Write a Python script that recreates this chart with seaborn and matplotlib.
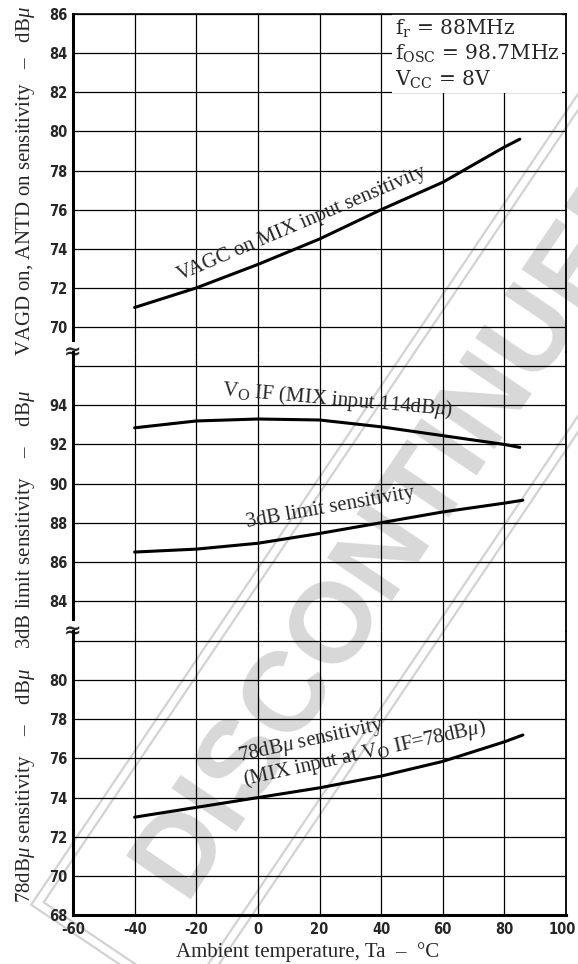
import numpy as np
import pandas as pd
import seaborn as sns
import matplotlib.pyplot as plt
from matplotlib.font_manager import FontProperties, findfont
from matplotlib.patches import Rectangle
from matplotlib.transforms import ScaledTranslation

# ambient temperature axis
x_ticks = [-60, -40, -20, 0, 20, 40, 60, 80, 100]

# VAGC on MIX input sensitivity (top panel)
agc_ta = [-40, -20, 0, 20, 40, 60, 80, 85]
agc_db = [71.0, 72.0, 73.2, 74.5, 76.0, 77.4, 79.2, 79.6]

# VO IF, MIX input 114dBu (middle panel)
voif_ta = [-40, -20, 0, 20, 40, 60, 80, 85]
voif_db = [92.85, 93.2, 93.3, 93.25, 92.9, 92.45, 92.0, 91.85]

# 3dB limit sensitivity (middle panel)
lim_ta = [-40, -20, 0, 20, 40, 60, 80, 86]
lim_db = [86.5, 86.65, 86.95, 87.45, 88.0, 88.55, 89.0, 89.15]

# 78dBu sensitivity (bottom panel)
s78_ta = [-40, -20, 0, 20, 40, 60, 80, 86]
s78_db = [73.0, 73.5, 74.0, 74.5, 75.1, 75.85, 76.85, 77.2]

top_ticks = [70, 72, 74, 76, 78, 80, 82, 84, 86]
top_labels = ["70", "72", "74", "76", "78", "80", "82", "84", "86"]
mid_ticks = [84, 86, 88, 90, 92, 94, 96]
mid_labels = ["84", "86", "88", "90", "92", "94", ""]
bot_ticks = [68, 70, 72, 74, 76, 78, 80, 82]
bot_labels = ["68", "70", "72", "74", "76", "78", "80", ""]

# narrow bold digits for the ticks if the condensed face is there
tick_stretch = "condensed"
if "Condensed" not in findfont(FontProperties(family="DejaVu Sans", weight="bold", stretch="condensed")):
    tick_stretch = "normal"
tick_size = 10.5

sns.set_style("white")
plt.rcParams["font.family"] = ["Liberation Serif", "DejaVu Serif"]
plt.rcParams["mathtext.fontset"] = "custom"
plt.rcParams["mathtext.rm"] = "DejaVu Serif"
plt.rcParams["mathtext.it"] = "Liberation Serif:italic"
plt.rcParams["mathtext.bf"] = "DejaVu Serif:bold"
plt.rcParams["axes.unicode_minus"] = False

fig, axes = plt.subplots(3, 1, figsize=(5.78, 9.64), dpi=100, sharex=True,
                         gridspec_kw={"height_ratios": [17.3, 14.25, 14.5], "hspace": 0})
fig.subplots_adjust(left=73 / 578, right=566 / 578, top=1 - 14 / 964, bottom=1 - 915 / 964)
ax_top, ax_mid, ax_bot = axes

# watermark in the background
wm = fig.add_axes([0, 0, 1, 1], zorder=-1)
wm.set_xlim(0, 578)
wm.set_ylim(0, 964)
wm.axis("off")
ang = 56
c = np.array([402, 440])
u = np.array([np.cos(np.deg2rad(ang)), np.sin(np.deg2rad(ang))])
v = np.array([-np.sin(np.deg2rad(ang)), np.cos(np.deg2rad(ang))])
wm.text(c[0], c[1], "DISCONTINUED", rotation=ang, rotation_mode="anchor",
        ha="center", va="center", fontsize=82, fontweight="bold",
        family="Liberation Sans", color="#d8d8d8", clip_on=True)
for L, W in [(1028, 171), (1046, 189)]:
    xy = c - L / 2 * u - W / 2 * v
    wm.add_patch(Rectangle(xy, L, W, angle=ang, fill=False, ec="#d2d2d2", lw=1.6))

curves = [
    (ax_top, agc_ta, agc_db),
    (ax_mid, voif_ta, voif_db),
    (ax_mid, lim_ta, lim_db),
    (ax_bot, s78_ta, s78_db),
]
for ax, ta, db in curves:
    df = pd.DataFrame({"Ta": ta, "dB": db})
    sns.lineplot(data=df, x="Ta", y="dB", ax=ax, color="black", lw=2.2, zorder=3)

gap = "    \u2013    "
panels = [
    (ax_top, (68.7, 86), top_ticks, top_labels,
     "VAGD on, ANTD on sensitivity   \u2013   dB$\\mathit{\\mu}$", 0.505),
    (ax_mid, (82.45, 96.7), mid_ticks, mid_labels,
     "3dB limit sensitivity" + gap + "dB$\\mathit{\\mu}$", 0.40),
    (ax_bot, (68, 82.5), bot_ticks, bot_labels,
     "78dB$\\mathit{\\mu}$ sensitivity" + gap + "dB$\\mathit{\\mu}$", 0.456),
]
for ax, ylim, ticks, labels, ylab, ly in panels:
    ax.set_facecolor("none")
    ax.set_xlim(-60, 100)
    ax.set_ylim(*ylim)
    ax.set_xticks(x_ticks)
    ax.set_yticks(ticks, labels)
    ax.set_axisbelow(True)
    ax.grid(True, color="black", lw=0.9)
    ax.set_xlabel("")
    ax.set_ylabel(ylab, fontsize=15)
    ax.yaxis.set_label_coords(-0.073, ly)
    ax.tick_params(axis="y", length=3, width=1, pad=1, labelsize=tick_size, color="black")
    plt.setp(ax.get_yticklabels(), family="DejaVu Sans", weight="bold", stretch=tick_stretch)
    ax.spines["left"].set_linewidth(2.2)
    ax.spines["right"].set_linewidth(1.3)
    for s in ["left", "right", "top", "bottom"]:
        ax.spines[s].set_color("black")

ax_top.spines["bottom"].set_visible(False)
ax_top.spines["top"].set_linewidth(1.2)
ax_mid.spines["top"].set_visible(False)
ax_mid.spines["bottom"].set_visible(False)
ax_bot.spines["top"].set_visible(False)
ax_bot.spines["bottom"].set_linewidth(2.2)
for ax in (ax_top, ax_mid):
    ax.tick_params(axis="x", bottom=False, labelbottom=False)
ax_bot.tick_params(axis="x", length=0, pad=5, labelsize=tick_size)
plt.setp(ax_bot.get_xticklabels(), family="DejaVu Sans", weight="bold", stretch=tick_stretch)
last = ax_bot.get_xticklabels()[-1]
last.set_horizontalalignment("right")
last.set_transform(last.get_transform() + ScaledTranslation(0.1, 0, fig.dpi_scale_trans))
ax_bot.set_xlabel("Ambient temperature, Ta  \u2013  \u00b0C", fontsize=15)
ax_bot.xaxis.set_label_coords(0.475, -0.095)

# axis break marks on the left edge
for ax in (ax_top, ax_mid):
    ax.text(0, 0, "\u2248", transform=ax.transAxes, ha="center", va="center",
            fontsize=15, fontweight="bold", family="DejaVu Sans", zorder=10, clip_on=False,
            bbox=dict(facecolor="white", edgecolor="none", pad=0.5))

# curve captions
ax_top.text(14.3, 75.3, "VAGC on MIX input sensitivity", rotation=23, rotation_mode="anchor",
            ha="center", va="center", fontsize=15)
ax_mid.text(26, 94.25, "V$_\\mathrm{O}$ IF (MIX input 114dB$\\mathit{\\mu}$)", rotation=-5,
            rotation_mode="anchor", ha="center", va="center", fontsize=15)
ax_mid.text(23.4, 88.75, "3dB limit sensitivity", rotation=10, rotation_mode="anchor",
            ha="center", va="center", fontsize=15)
ax_bot.text(-3.8, 74.3,
            "78dB$\\mathit{\\mu}$ sensitivity\n(MIX input at V$_\\mathrm{O}$ IF=78dB$\\mathit{\\mu}$)",
            rotation=12.4, rotation_mode="anchor", ha="left", va="bottom",
            multialignment="left", fontsize=15, linespacing=1.0)

# test conditions (white box over the grid, under the frame)
ax_top.text(44.5, 85.85,
            "f$_\\mathrm{r}$ = 88MHz\nf$_\\mathrm{OSC}$ = 98.7MHz\nV$_\\mathrm{CC}$ = 8V",
            ha="left", va="top", fontsize=14.5, family="DejaVu Serif", linespacing=1.2, zorder=2,
            bbox=dict(facecolor="white", edgecolor="none", pad=2))

plt.savefig("out.png", dpi=100)
plt.close()
